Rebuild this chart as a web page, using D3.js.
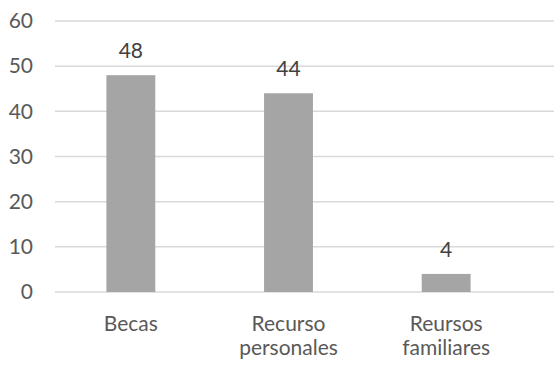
<!DOCTYPE html>
<html>
<head>
<meta charset="utf-8">
<script src="https://cdn.jsdelivr.net/npm/d3@7"></script>
<style>
html,body{margin:0;padding:0;background:#fff;}
svg{display:block;font-family:Lato,sans-serif;}
</style>
</head>
<body>
<svg id="chart" width="554" height="365"></svg>
<script>
const categories = [["Becas"], ["Recurso", "personales"], ["Reursos", "familiares"]];
const values = [48, 44, 4];
const yTicks = [0, 10, 20, 30, 40, 50, 60];

const svg = d3.select("#chart");
const x = d3.scaleBand().domain(d3.range(categories.length)).range([52, 525]).paddingInner(0.69).paddingOuter(0.345);
const y = d3.scaleLinear().domain([0, 60]).range([292, 21]);
const textColor = "#595959";
const fs = "21px";

// gridlines
svg.append("g").selectAll("line").data(yTicks).join("line")
  .attr("x1", 55).attr("x2", 554)
  .attr("y1", d => y(d)).attr("y2", d => y(d))
  .attr("stroke", "#d9d9d9").attr("stroke-width", 1.5);

// y axis labels
const yAxis = d3.axisLeft(y).tickValues(yTicks).tickSize(0).tickPadding(0);
const gy = svg.append("g").attr("transform", "translate(33,0)").call(yAxis);
gy.select(".domain").remove();
gy.selectAll("text").attr("fill", textColor).style("font-size", fs).style("font-family", "Lato,sans-serif");

// bars
svg.append("g").selectAll("rect").data(values).join("rect")
  .attr("x", (d, i) => x(i)).attr("width", x.bandwidth())
  .attr("y", d => y(d)).attr("height", d => y(0) - y(d))
  .attr("fill", "#a5a5a5");

// data labels
svg.append("g").selectAll("text").data(values).join("text")
  .attr("x", (d, i) => x(i) + x.bandwidth() / 2)
  .attr("y", d => y(d) - 17)
  .attr("text-anchor", "middle").attr("fill", "#404040")
  .style("font-size", fs)
  .text(d => d);

// category labels
const cat = svg.append("g").selectAll("text").data(categories).join("text")
  .attr("x", (d, i) => x(i) + x.bandwidth() / 2)
  .attr("y", 331)
  .attr("text-anchor", "middle").attr("fill", textColor)
  .style("font-size", fs);
cat.selectAll("tspan").data(d => d).join("tspan")
  .attr("x", function() { return d3.select(this.parentNode).attr("x"); })
  .attr("dy", (d, i) => i === 0 ? 0 : 24)
  .text(d => d);
</script>
</body>
</html>
